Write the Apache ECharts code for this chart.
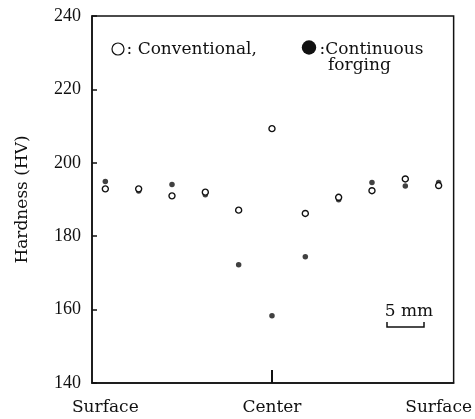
<!DOCTYPE html>
<html>
<head>
<meta charset="utf-8">
<script src="https://cdn.jsdelivr.net/npm/echarts@6/dist/echarts.min.js"></script>
<style>html,body{margin:0;padding:0;background:#fff;}#c{width:475px;height:419px;}</style>
</head>
<body>
<div id="c"></div>
<script>
// Positions across the section (point index from center)
const positions = [-5, -4, -3, -2, -1, 0, 1, 2, 3, 4, 5];
// Hardness (HV)
const conventional = [192.9, 192.9, 191.0, 192.0, 187.1, 209.3, 186.2, 190.6, 192.4, 195.6, 193.8];
const continuous   = [194.9, 192.3, 194.1, 191.3, 172.2, 158.3, 174.4, 189.9, 194.6, 193.7, 194.6];
const yTicks = [140, 160, 180, 200, 220, 240];
const xLabelValues = [-5, 0, 5];
const xLabelTexts = ['Surface', 'Center', 'Surface'];
const yName = 'Hardness (HV)';
const legendNames = ['Conventional,', 'Continuous', 'forging'];
const scaleText = '5 mm';

const serif = '"DejaVu Serif", serif';
const ink = '#111';

const chart = echarts.init(document.getElementById('c'), null, {renderer: 'canvas'});
chart.setOption({
  animation: false,
  backgroundColor: '#fff',
  grid: {left: 92, right: 18, top: 16, bottom: 36, show: true, borderColor: ink, borderWidth: 1.5, backgroundColor: 'transparent'},
  xAxis: {
    type: 'value', min: -5.4, max: 5.45,
    axisLine: {show: true, onZero: false, lineStyle: {color: ink, width: 1.5}},
    axisTick: {show: true, inside: true, length: 13, lineStyle: {color: ink, width: 2}, customValues: [0]},
    axisLabel: {show: true, customValues: xLabelValues, margin: 16, color: ink, fontFamily: serif, fontSize: 17,
      formatter: v => { const i = xLabelValues.indexOf(Math.round(v)); return i >= 0 ? xLabelTexts[i] : ''; }},
    splitLine: {show: false}
  },
  yAxis: {
    type: 'value', min: yTicks[0], max: yTicks[yTicks.length - 1], interval: 20,
    name: yName, nameLocation: 'middle', nameGap: 61, nameRotate: 90,
    nameTextStyle: {color: ink, fontFamily: serif, fontSize: 17},
    axisLine: {show: true, onZero: false, lineStyle: {color: ink, width: 1.5}},
    axisTick: {show: true, inside: true, length: 5, lineStyle: {color: ink, width: 1.5}},
    axisLabel: {margin: 11, color: ink, fontFamily: '"Liberation Serif", serif', fontSize: 18},
    splitLine: {show: false}
  },
  series: [
    {
      name: 'Continuous forging', type: 'scatter', symbol: 'circle', symbolSize: 5.5,
      itemStyle: {color: ink},
      data: positions.map((p, i) => [p, continuous[i]])
    },
    {
      name: 'Conventional', type: 'scatter', symbol: 'circle', symbolSize: 6,
      itemStyle: {color: '#fff', borderColor: ink, borderWidth: 1.4, opacity: 1},
      data: positions.map((p, i) => [p, conventional[i]])
    }
  ],
  graphic: [
    {type: 'circle', shape: {cx: 118, cy: 49, r: 6}, style: {fill: '#fff', stroke: ink, lineWidth: 1.2}, z: 10},
    {type: 'text', x: 126.5, y: 49.5, style: {text: ': ' + legendNames[0], font: '17px ' + serif, fill: ink, textAlign: 'left', textVerticalAlign: 'middle', verticalAlign: 'middle'}, z: 10},
    {type: 'circle', shape: {cx: 309, cy: 47.5, r: 7.2}, style: {fill: ink}, z: 10},
    {type: 'text', x: 319.5, y: 49.5, style: {text: ':' + legendNames[1], font: '17px ' + serif, fill: ink, textAlign: 'left', textVerticalAlign: 'middle', verticalAlign: 'middle'}, z: 10},
    {type: 'text', x: 328, y: 65.5, style: {text: legendNames[2], font: '17px ' + serif, fill: ink, textAlign: 'left', textVerticalAlign: 'middle', verticalAlign: 'middle'}, z: 10},
    {type: 'text', x: 409, y: 312, style: {text: scaleText, font: '17px ' + serif, fill: ink, textAlign: 'center', textVerticalAlign: 'middle', verticalAlign: 'middle'}, z: 10},
    {type: 'polyline', shape: {points: [[387, 322], [387, 327], [424, 327], [424, 322]]}, style: {stroke: ink, lineWidth: 1.5, fill: null}, z: 10}
  ]
});
</script>
</body>
</html>
